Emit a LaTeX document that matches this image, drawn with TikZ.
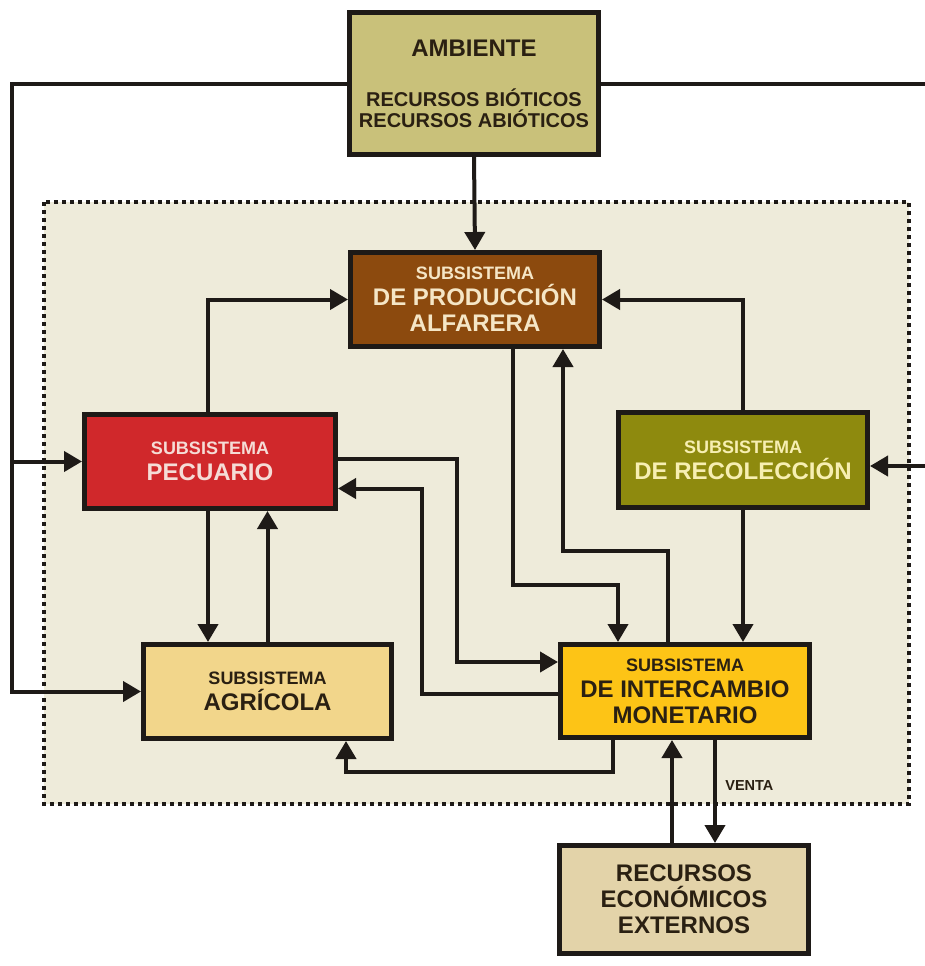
\documentclass[tikz,border=0pt]{standalone}
\usepackage{fontspec}
\setmainfont{Liberation Sans}
\usetikzlibrary{arrows.meta}

\definecolor{inkc}{HTML}{1E1A17}
\definecolor{ambfill}{HTML}{C9C17A}
\definecolor{zonefill}{HTML}{EEEBDA}
\definecolor{prodfill}{HTML}{8C4A0E}
\definecolor{pecfill}{HTML}{D0282B}
\definecolor{recfill}{HTML}{8E8A0E}
\definecolor{agrfill}{HTML}{F2D68B}
\definecolor{intfill}{HTML}{FDC416}
\definecolor{extfill}{HTML}{E3D3A9}
\definecolor{lighttxt}{HTML}{F5E6C6}
\definecolor{pinktxt}{HTML}{F5DCD6}
\definecolor{yelltxt}{HTML}{F7EFB2}
\definecolor{darktxt}{HTML}{2A2012}

\tikzset{
  box/.style={draw=inkc, line width=5pt, align=center, inner sep=0pt,
    font=\bfseries\fontsize{24}{26}\selectfont},
  link/.style={draw=inkc, line width=4pt, line join=miter},
  arr/.style={link, -{Triangle[length=18pt,width=20pt]}},
}
\newcommand{\subs}{{\fontsize{18}{26}\selectfont SUBSISTEMA}}

\begin{document}
\begin{tikzpicture}[x=1pt,y=-1pt]
\useasboundingbox (0,0) rectangle (925,966);
\fill[white] (0,0) rectangle (925,966);

% dotted frame of the production system
\draw[fill=zonefill, draw=inkc, line width=4pt, dash pattern=on 4pt off 4pt]
  (44,202) rectangle (909,804);

% boxes
\node[box, fill=ambfill, text=darktxt, minimum width=249pt, minimum height=142pt,
  font=\bfseries\fontsize{20}{21}\selectfont] (amb) at (474,83.5)
  {{\fontsize{24}{24}\selectfont AMBIENTE}\\[29pt]RECURSOS BIÓTICOS\\RECURSOS ABIÓTICOS};
\node[box, fill=prodfill, text=lighttxt, minimum width=249pt, minimum height=94pt]
  (prod) at (475,299.5) {\subs\\DE PRODUCCIÓN\\ALFARERA};
\node[box, fill=pecfill, text=pinktxt, minimum width=251pt, minimum height=94pt]
  (pec) at (210,461.5) {\subs\\PECUARIO};
\node[box, fill=recfill, text=yelltxt, minimum width=249pt, minimum height=95pt]
  (rec) at (743,460) {\subs\\DE RECOLECCIÓN};
\node[box, fill=agrfill, text=darktxt, minimum width=248pt, minimum height=94pt]
  (agr) at (267.5,691.5) {\subs\\AGRÍCOLA};
\node[box, fill=intfill, text=darktxt, minimum width=249pt, minimum height=93pt]
  (int) at (685,691) {\subs\\DE INTERCAMBIO\\MONETARIO};
\node[box, fill=extfill, text=darktxt, minimum width=249pt, minimum height=108pt]
  (ext) at (684,899.5) {RECURSOS\\ECONÓMICOS\\EXTERNOS};

% routing columns and rows
\coordinate (lcol) at (12,0);
\coordinate (redge) at (926,0);
\coordinate (ya) at (0,585);
\coordinate (yb) at (0,551);
\coordinate (xc) at (457,0);
\coordinate (xd) at (422,0);
\coordinate (ye) at (0,772);

% attachment points on the boxes
\coordinate (recE) at ([yshift=-6pt]rec.east);
\coordinate (pecN) at ([xshift=-2pt]pec.north);
\coordinate (prodS1) at ([xshift=38pt]prod.south);
\coordinate (prodS2) at ([xshift=88pt]prod.south);
\coordinate (intN1) at ([xshift=-67pt]int.north);
\coordinate (intN2) at ([xshift=-17pt]int.north);
\coordinate (pecE1) at ([yshift=3pt]pec.east);
\coordinate (pecE2) at ([yshift=-27pt]pec.east);
\coordinate (intW1) at ([yshift=29pt]int.west);
\coordinate (intW2) at ([yshift=-3pt]int.west);
\coordinate (pecS1) at ([xshift=-2pt]pec.south);
\coordinate (intS1) at ([xshift=-72pt]int.south);
\coordinate (intS2) at ([xshift=30pt]int.south);
\coordinate (agrS) at ([xshift=78.5pt]agr.south);
\coordinate (extN1) at ([xshift=-12pt]ext.north);

% environment inputs
\draw[arr] (amb.west) -| (lcol |- agr.west) -- (agr.west);
\draw[arr] (lcol |- pec.west) -- (pec.west);
\draw[link] (amb.east) -- (amb.east -| redge);
\draw[arr] (recE -| redge) -- (recE);
\draw[arr] (amb.south) -- (prod.north);

% flows into pottery production
\draw[arr] (pecN) |- (prod.west);
\draw[arr] (rec.north) |- (prod.east);

% pottery <-> monetary exchange
\draw[arr] (prodS1) -- (prodS1 |- ya) -| (intN1);
\draw[arr] (intN2) -- (intN2 |- yb) -| (prodS2);

% livestock <-> monetary exchange
\draw[arr] (pecE1) -- (pecE1 -| xc) |- (intW1);
\draw[arr] (intW2) -- (intW2 -| xd) |- (pecE2);

% gathering -> monetary exchange
\draw[arr] (rec.south) -- (rec.south |- int.north);

% livestock <-> agriculture
\draw[arr] (pecS1) -- (pecS1 |- agr.north);
\draw[arr] (agr.north) -- (agr.north |- pec.south);

% monetary exchange -> agriculture
\draw[arr] (intS1) -- (intS1 |- ye) -| (agrS);

% external economic resources
\draw[arr] (extN1) -- (extN1 |- int.south);
\draw[arr] (intS2) -- (intS2 |- ext.north)
  node[pos=0.44, right=5pt, text=darktxt, font=\bfseries\fontsize{14.5}{15}\selectfont] (venta) {VENTA};
\end{tikzpicture}
\end{document}
